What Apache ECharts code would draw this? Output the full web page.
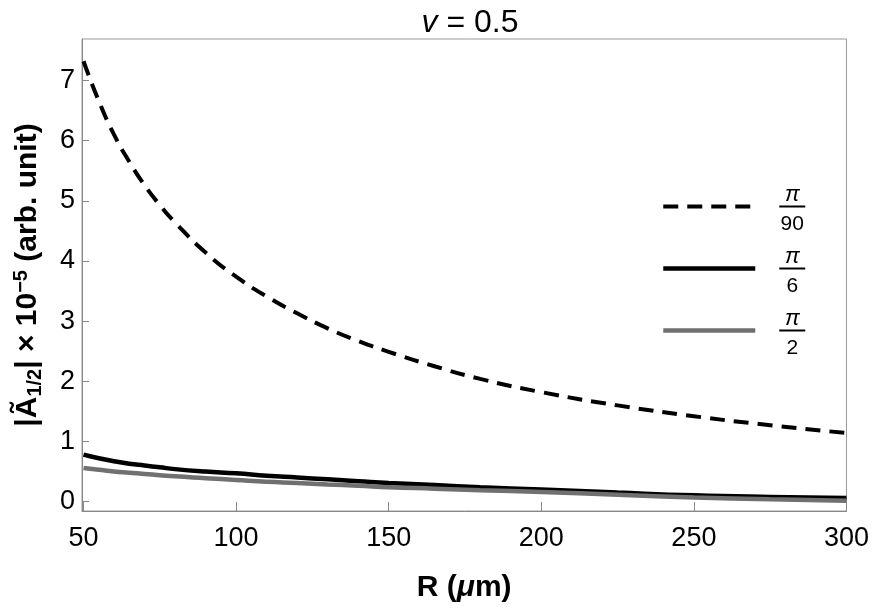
<!DOCTYPE html>
<html>
<head>
<meta charset="utf-8">
<script src="https://cdn.jsdelivr.net/npm/echarts@6/dist/echarts.min.js"></script>
<style>
  html, body { margin: 0; padding: 0; background: #fff; }
  #chart { width: 872px; height: 608px; }
</style>
</head>
<body>
<div id="chart"></div>
<script>
// R in micrometres
const radius = [50, 55, 60, 65, 70, 75, 80, 90, 100, 110, 120, 130, 140, 150, 165, 180, 200, 225, 250, 275, 300]
// theta = pi/90 (dashed)
const ampPi90 = [7.32, 6.66, 6.10, 5.65, 5.26, 4.93, 4.64, 4.14, 3.74, 3.41, 3.13, 2.88, 2.67, 2.49, 2.25, 2.04, 1.82, 1.60, 1.42, 1.27, 1.14]
// theta = pi/6 (black)
const ampPi6 = [0.78, 0.72, 0.67, 0.63, 0.60, 0.57, 0.54, 0.50, 0.47, 0.43, 0.40, 0.37, 0.34, 0.31, 0.275, 0.24, 0.20, 0.15, 0.105, 0.078, 0.06]
// theta = pi/2 (gray)
const ampPi2 = [0.56, 0.53, 0.50, 0.48, 0.46, 0.44, 0.42, 0.39, 0.36, 0.33, 0.31, 0.285, 0.265, 0.24, 0.215, 0.19, 0.16, 0.115, 0.07, 0.04, 0.015]

const xTicks = [50, 100, 150, 200, 250, 300]
const yTicks = [0, 1, 2, 3, 4, 5, 6, 7]
const legendDen = { 'π/90': '90', 'π/6': '6', 'π/2': '2' }

const font = "'Liberation Sans', Arial, sans-serif"
const pairs = vals => radius.map((r, i) => [r, vals[i]])

let chart = echarts.init(document.getElementById('chart'))

let option = {
    animation: false,
    textStyle: { fontFamily: font },
    title: {
        text: '{i|v} = 0.5',
        left: 465,
        textAlign: 'center',
        top: 2,
        textStyle: {
            fontSize: 32, fontWeight: 'normal', color: '#000', fontFamily: font,
            rich: { i: { fontSize: 32, fontStyle: 'italic', color: '#000', fontFamily: font } }
        }
    },
    grid: {
        left: 82, right: 24, top: 39, bottom: 96,
        show: true, borderColor: '#9a9a9a', borderWidth: 1
    },
    legend: {
        orient: 'vertical',
        left: 661, top: 181,
        padding: 0,
        itemWidth: 92, itemHeight: 14, itemGap: 8,
        data: ['π/90', 'π/6', 'π/2'],
        itemStyle: { opacity: 0 },
        lineStyle: { width: 'inherit' },
        formatter: name => '{gap| }\n{n|π}\n{bar| }\n{gap| }\n{d|' + legendDen[name] + '}',
        textStyle: {
            padding: [0, 0, 0, 19],
            rich: {
                gap: { fontSize: 1, lineHeight: 6 },
                n: { fontSize: 22, fontStyle: 'italic', lineHeight: 20, align: 'center', color: '#000', fontFamily: font },
                bar: { width: 26, height: 2, lineHeight: 4, backgroundColor: '#000', align: 'center', fontSize: 2 },
                d: { fontSize: 21, lineHeight: 20, align: 'center', color: '#000', fontFamily: font }
            }
        }
    },
    xAxis: {
        type: 'value',
        min: 49.5, max: 300,
        name: 'R ({i|μ}m)',
        nameLocation: 'middle',
        nameGap: 62,
        nameTextStyle: {
            fontSize: 30, fontWeight: 'bold', color: '#000', fontFamily: font,
            rich: { i: { fontSize: 30, fontWeight: 'bold', fontStyle: 'italic', color: '#000', fontFamily: font } }
        },
        axisLine: { onZero: false, lineStyle: { color: '#888', width: 1 } },
        axisTick: { inside: true, length: 9, customValues: xTicks, lineStyle: { color: '#888' } },
        axisLabel: { customValues: xTicks, fontSize: 27, color: '#000', margin: 14, fontFamily: font },
        splitLine: { show: false }
    },
    yAxis: {
        type: 'value',
        min: -0.156, max: 7.69,
        name: '|Ã{sub|1/2}| × 10{sup|−5} (arb. unit)',
        nameLocation: 'middle',
        nameGap: 37,
        nameTextStyle: {
            fontSize: 30, fontWeight: 'bold', color: '#000', lineHeight: 34, fontFamily: font,
            rich: {
                sub: { fontSize: 20, fontWeight: 'bold', lineHeight: 20, verticalAlign: 'bottom', color: '#000', fontFamily: font },
                sup: { fontSize: 20, fontWeight: 'bold', lineHeight: 20, verticalAlign: 'top', color: '#000', fontFamily: font }
            }
        },
        axisLine: { onZero: false, lineStyle: { color: '#888', width: 1 } },
        axisTick: { inside: true, length: 7, customValues: yTicks, lineStyle: { color: '#888' } },
        axisLabel: { customValues: yTicks, fontSize: 27, color: '#000', margin: 7, fontFamily: font },
        splitLine: { show: false }
    },
    series: [
        {
            name: 'π/90', type: 'line', smooth: true, symbol: 'none',
            data: pairs(ampPi90),
            lineStyle: { color: '#000', width: 4, type: [15, 9], cap: 'butt' },
            itemStyle: { color: '#000' }
        },
        {
            name: 'π/6', type: 'line', smooth: true, symbol: 'none',
            data: pairs(ampPi6),
            lineStyle: { color: '#000', width: 4.5 },
            itemStyle: { color: '#000' }
        },
        {
            name: 'π/2', type: 'line', smooth: true, symbol: 'none',
            data: pairs(ampPi2),
            lineStyle: { color: '#707070', width: 4.5 },
            itemStyle: { color: '#707070' }
        }
    ]
}

chart.setOption(option)
</script>
</body>
</html>
